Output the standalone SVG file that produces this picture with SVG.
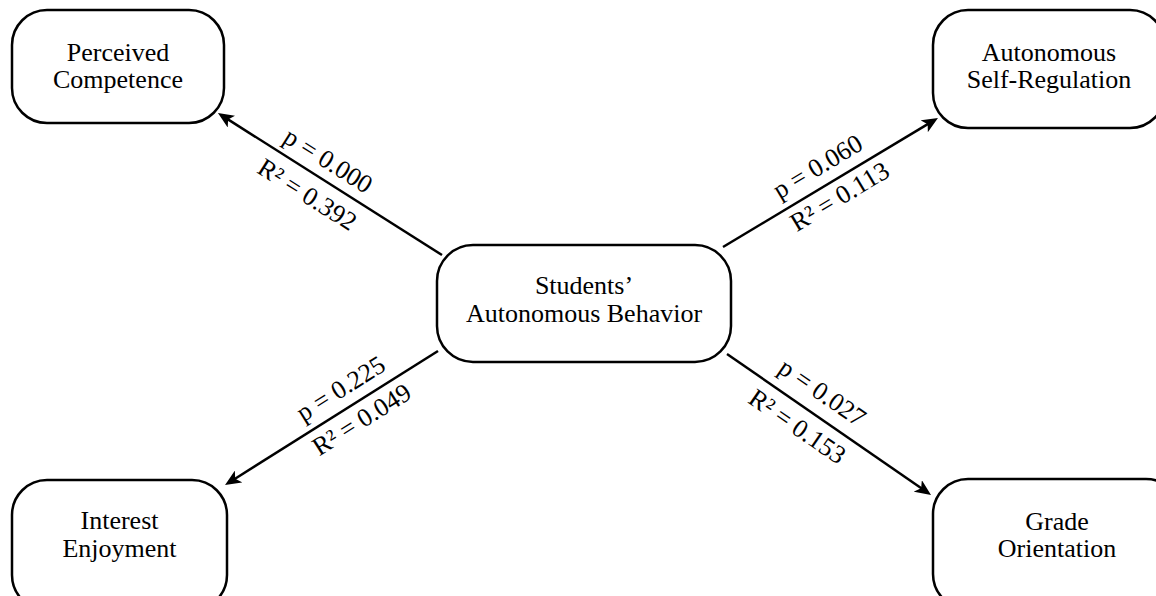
<svg xmlns="http://www.w3.org/2000/svg" width="1156" height="596" viewBox="0 0 1156 596">
  <defs>
    <style>
      .box { fill: #ffffff; stroke: #000000; stroke-width: 2.5; }
      .node-text { font-family: "Liberation Serif", "Times New Roman", serif; font-size: 26px; fill: #000000; text-anchor: middle; }
      .edge { stroke: #000000; stroke-width: 2.5; fill: none; marker-end: url(#arrow); }
      .edge-label { font-family: "Liberation Serif", "Times New Roman", serif; font-size: 26px; fill: #000000; text-anchor: middle; }
    </style>
    <marker id="arrow" viewBox="0 0 16 14" refX="6" refY="7" markerWidth="16" markerHeight="14" markerUnits="userSpaceOnUse" orient="auto">
      <path d="M0,0 L16,7 L0,14 L4,7 z" fill="#000000"/>
    </marker>
  </defs>
  <rect width="1156" height="596" fill="#ffffff"/>

  <!-- connectors from the central construct to the four outcomes -->
  <g id="connectors">
    <line class="edge" x1="442" y1="255" x2="226.4" y2="118.4"/>
    <line class="edge" x1="723" y1="247" x2="929.4" y2="123.1"/>
    <line class="edge" x1="438" y1="351" x2="233.5" y2="479.7"/>
    <line class="edge" x1="727" y1="354" x2="922.8" y2="489.3"/>

    <g id="label-competence">
      <text class="edge-label" transform="translate(328,161) rotate(32.4)" y="8">p = 0.000</text>
      <text class="edge-label" transform="translate(307,195) rotate(32.4)" y="8">R² = 0.392</text>
    </g>
    <g id="label-selfreg">
      <text class="edge-label" transform="translate(818,167) rotate(-31)" y="8">p = 0.060</text>
      <text class="edge-label" transform="translate(840,197) rotate(-31)" y="8">R² = 0.113</text>
    </g>
    <g id="label-interest">
      <text class="edge-label" transform="translate(341,389) rotate(-32.2)" y="8">p = 0.225</text>
      <text class="edge-label" transform="translate(362,420) rotate(-32.2)" y="8">R² = 0.049</text>
    </g>
    <g id="label-grade">
      <text class="edge-label" transform="translate(822,393) rotate(34.6)" y="8">p = 0.027</text>
      <text class="edge-label" transform="translate(797,427) rotate(34.6)" y="8">R² = 0.153</text>
    </g>
  </g>

  <g id="node-center">
    <rect class="box" x="437" y="245" width="294" height="117" rx="36" ry="36"/>
    <text class="node-text" x="584" y="294">Students’</text>
    <text class="node-text" x="584" y="322">Autonomous Behavior</text>
  </g>

  <g id="node-competence">
    <rect class="box" x="12" y="10" width="212" height="113" rx="35" ry="35"/>
    <text class="node-text" x="118" y="61">Perceived</text>
    <text class="node-text" x="118" y="88">Competence</text>
  </g>

  <g id="node-selfreg">
    <rect class="box" x="933" y="10" width="232" height="118" rx="35" ry="35"/>
    <text class="node-text" x="1049" y="61">Autonomous</text>
    <text class="node-text" x="1049" y="88">Self-Regulation</text>
  </g>

  <g id="node-interest">
    <rect class="box" x="12" y="480" width="215" height="130" rx="35" ry="35"/>
    <text class="node-text" x="119.5" y="529">Interest</text>
    <text class="node-text" x="119.5" y="557">Enjoyment</text>
  </g>

  <g id="node-grade">
    <rect class="box" x="933" y="479" width="248" height="130" rx="35" ry="35"/>
    <text class="node-text" x="1057" y="530">Grade</text>
    <text class="node-text" x="1057" y="557">Orientation</text>
  </g>
</svg>
